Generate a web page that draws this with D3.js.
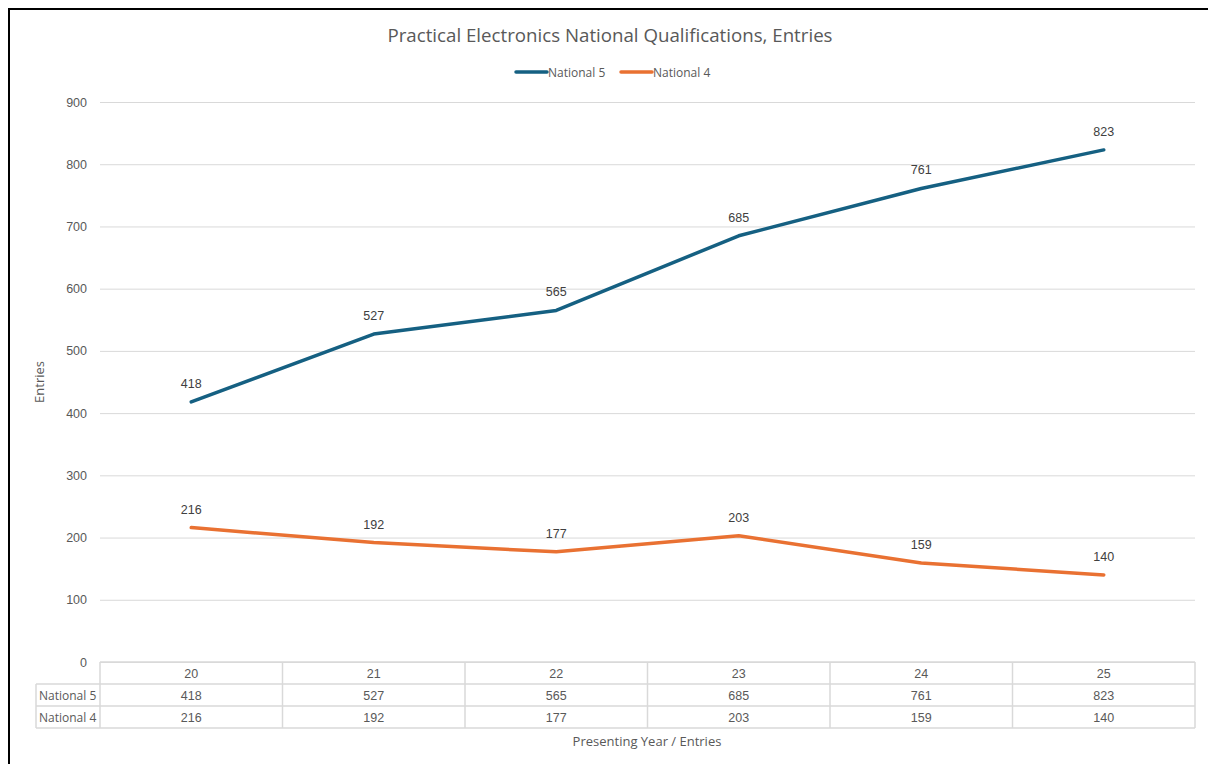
<!DOCTYPE html>
<html>
<head>
<meta charset="utf-8">
<script src="https://cdn.jsdelivr.net/npm/d3@7"></script>
<style>
  body { margin: 0; background: #fff; }
  svg { display: block; font-family: "Open Sans", "Liberation Sans", sans-serif; }
</style>
</head>
<body>
<svg id="chart" width="1208" height="764"></svg>
<script>
// chart data
const years = ["20", "21", "22", "23", "24", "25"];
const national5 = [418, 527, 565, 685, 761, 823];
const national4 = [216, 192, 177, 203, 159, 140];
const seriesNames = ["National 5", "National 4"];
const yTicks = [0, 100, 200, 300, 400, 500, 600, 700, 800, 900];

const colors = ["#156082", "#E97132"];
const series = [national5, national4];

const svg = d3.select("#chart");
const margin = { top: 102, right: 13, bottom: 102, left: 100 };
const width = +svg.attr("width") - margin.left - margin.right;
const height = +svg.attr("height") - margin.top - margin.bottom;

// frame
svg.append("rect")
  .attr("x", 9).attr("y", 9)
  .attr("width", 1300).attr("height", 900)
  .attr("fill", "none")
  .attr("stroke", "#000")
  .attr("stroke-width", 2);

const x = d3.scaleBand()
  .domain(years)
  .range([0, width]);

const y = d3.scaleLinear()
  .domain([0, 900])
  .range([height, 0]);

const g = svg.append("g")
  .attr("transform", "translate(" + margin.left + "," + margin.top + ")");

// gridlines
g.append("g")
  .call(d3.axisLeft(y).tickValues(yTicks).tickSize(-width).tickFormat(""))
  .call(s => s.select(".domain").remove())
  .call(s => s.selectAll(".tick line").attr("stroke", "#d9d9d9").attr("stroke-width", 1));

// y tick labels
g.append("g")
  .call(d3.axisLeft(y).tickValues(yTicks).tickSize(0).tickPadding(13))
  .call(s => s.select(".domain").remove())
  .call(s => s.selectAll("text")
    .attr("fill", "#595959")
    .style("font-size", "12.5px")
    .style("font-family", "'Liberation Sans', Arial, sans-serif"));

// title
svg.append("text")
  .attr("x", 610).attr("y", 42)
  .attr("text-anchor", "middle")
  .attr("fill", "#595959")
  .style("font-size", "18.7px")
  .text("Practical Electronics National Qualifications, Entries");

// legend
const legendX = [516, 621];
seriesNames.forEach((name, i) => {
  const lg = svg.append("g").attr("transform", "translate(" + legendX[i] + ",72)");
  lg.append("line")
    .attr("x1", 0).attr("x2", 31)
    .attr("stroke", colors[i])
    .attr("stroke-width", 3.5)
    .attr("stroke-linecap", "round");
  lg.append("text")
    .attr("x", 32).attr("y", 4.5)
    .attr("fill", "#595959")
    .style("font-size", "12px")
    .text(name);
});

// axis titles
svg.append("text")
  .attr("transform", "translate(44,382) rotate(-90)")
  .attr("text-anchor", "middle")
  .attr("fill", "#595959")
  .style("font-size", "13px")
  .text("Entries");

svg.append("text")
  .attr("x", 647).attr("y", 746)
  .attr("text-anchor", "middle")
  .attr("fill", "#595959")
  .style("font-size", "13px")
  .text("Presenting Year / Entries");

// lines and data labels
const line = d3.line()
  .x((d, i) => x(years[i]) + x.bandwidth() / 2)
  .y(d => y(d));

series.forEach((vals, si) => {
  g.append("path")
    .datum(vals)
    .attr("fill", "none")
    .attr("stroke", colors[si])
    .attr("stroke-width", 3.5)
    .attr("stroke-linejoin", "round")
    .attr("stroke-linecap", "round")
    .attr("d", line);

  g.selectAll(".lbl" + si)
    .data(vals)
    .enter().append("text")
    .attr("x", (d, i) => x(years[i]) + x.bandwidth() / 2)
    .attr("y", d => y(d) - 14)
    .attr("text-anchor", "middle")
    .attr("fill", "#404040")
    .style("font-size", "12.5px")
    .style("font-family", "'Liberation Sans', Arial, sans-serif")
    .text(d => d);
});

// data table under the plot
const rowH = 22;
const labelLeft = 36 - margin.left;
const table = g.append("g").attr("transform", "translate(0," + height + ")");
const gridColor = "#d9d9d9";

// horizontal lines
[0, 1, 2, 3].forEach(r => {
  table.append("line")
    .attr("x1", r === 0 ? 0 : labelLeft).attr("x2", width)
    .attr("y1", r * rowH).attr("y2", r * rowH)
    .attr("stroke", gridColor).attr("stroke-width", 1.5);
});
// vertical lines
table.append("line")
  .attr("x1", labelLeft).attr("x2", labelLeft)
  .attr("y1", rowH).attr("y2", rowH * 3)
  .attr("stroke", gridColor).attr("stroke-width", 1.5);
years.forEach((yr, i) => {
  table.append("line")
    .attr("x1", x(yr)).attr("x2", x(yr))
    .attr("y1", 0).attr("y2", rowH * 3)
    .attr("stroke", gridColor).attr("stroke-width", 1.5);
});
table.append("line")
  .attr("x1", width).attr("x2", width)
  .attr("y1", 0).attr("y2", rowH * 3)
  .attr("stroke", gridColor).attr("stroke-width", 1.5);

const cellText = (sel) => sel
  .attr("fill", "#595959")
  .style("font-size", "12.5px")
  .style("font-family", "'Liberation Sans', Arial, sans-serif");

years.forEach((yr, i) => {
  table.append("text")
    .attr("x", x(yr) + x.bandwidth() / 2).attr("y", rowH / 2 + 5)
    .attr("text-anchor", "middle")
    .call(cellText)
    .text(yr);
});

series.forEach((vals, si) => {
  table.append("text")
    .attr("x", labelLeft + 3).attr("y", rowH * (si + 1) + rowH / 2 + 4.5)
    .call(cellText)
    .style("font-size", "12px")
    .style("font-family", "'Open Sans', sans-serif")
    .text(seriesNames[si]);
  vals.forEach((v, i) => {
    table.append("text")
      .attr("x", x(years[i]) + x.bandwidth() / 2).attr("y", rowH * (si + 1) + rowH / 2 + 5)
      .attr("text-anchor", "middle")
      .call(cellText)
      .text(v);
  });
});
</script>
</body>
</html>
